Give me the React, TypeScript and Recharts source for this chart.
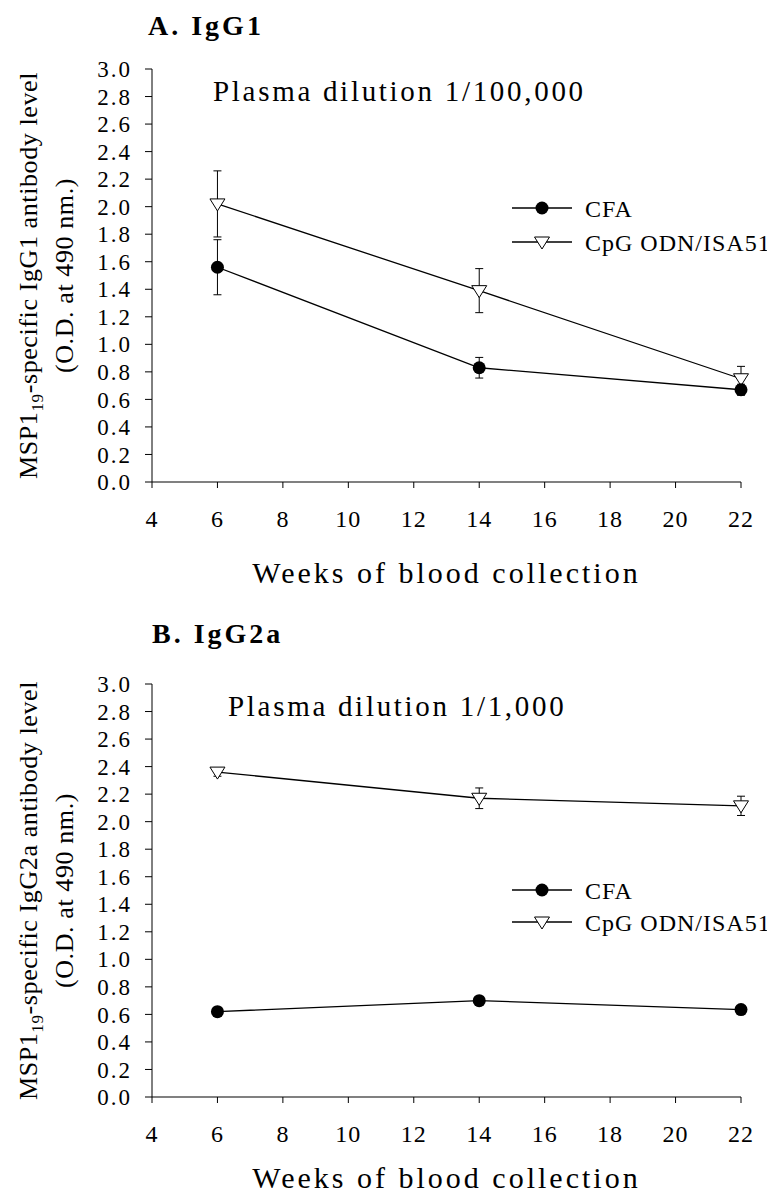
import React from 'react';
import { LineChart, Line, XAxis, YAxis, ErrorBar } from 'recharts';

const weeks = [6, 14, 22];
const weekTicks = [4, 6, 8, 10, 12, 14, 16, 18, 20, 22];
const odTicks = [0, 0.2, 0.4, 0.6, 0.8, 1.0, 1.2, 1.4, 1.6, 1.8, 2.0, 2.2, 2.4, 2.6, 2.8, 3.0];

// IgG1, plasma dilution 1/100,000
const cfaIgG1 = [1.56, 0.83, 0.67];
const cfaIgG1Err = [0.2, 0.075, 0.04];
const cpgIgG1 = [2.02, 1.39, 0.75];
const cpgIgG1Err = [0.24, 0.16, 0.09];

// IgG2a, plasma dilution 1/1,000
const cfaIgG2a = [0.62, 0.7, 0.635];
const cfaIgG2aErr = [0.02, 0.02, 0.02];
const cpgIgG2a = [2.36, 2.17, 2.115];
const cpgIgG2aErr = [0.03, 0.075, 0.07];

const SERIF = '"Liberation Serif", "Times New Roman", serif';
const W = 775;
const PLOT_LEFT = 152;
const PLOT_RIGHT = 741;
const PLOT_TOP = 69;
const PLOT_BOTTOM = 482;
const X_AXIS_H = 30;
const Y_AXIS_W = 60;

const buildRows = (cfa: number[], cfaErr: number[], cpg: number[], cpgErr: number[]) =>
  weeks.map((week, i) => ({ week, cfa: cfa[i], cfaErr: cfaErr[i], cpg: cpg[i], cpgErr: cpgErr[i] }));

const Triangle = ({ cx, cy }: { cx: number; cy: number }) => (
  <path
    d={`M${cx - 7.5},${cy - 5} L${cx + 7.5},${cy - 5} L${cx},${cy + 7} Z`}
    fill="#fff"
    stroke="#000"
    strokeWidth={1}
  />
);

const Disc = ({ cx, cy }: { cx: number; cy: number }) => <circle cx={cx} cy={cy} r={6.5} fill="#000" />;

interface PanelProps {
  top: number;
  height: number;
  title: string;
  titleX: number;
  titleY: number;
  dilution: string;
  dilutionX: number;
  isotype: string;
  legendRows: [number, number];
  xLabelY: number;
  rows: ReturnType<typeof buildRows>;
}

const Panel: React.FC<PanelProps> = ({
  top, height, title, titleX, titleY, dilution, dilutionX, isotype, legendRows, xLabelY, rows,
}) => {
  const yMid = (PLOT_TOP + PLOT_BOTTOM) / 2;
  return (
    <div style={{ position: 'absolute', left: 0, top, width: W, height }}>
      <LineChart
        width={W}
        height={height}
        data={rows}
        margin={{ top: PLOT_TOP, right: W - PLOT_RIGHT, bottom: height - PLOT_BOTTOM - X_AXIS_H, left: PLOT_LEFT - Y_AXIS_W }}
      >
        <XAxis
          type="number"
          dataKey="week"
          domain={[4, 22]}
          ticks={weekTicks}
          interval={0}
          height={X_AXIS_H}
          axisLine={{ stroke: '#808080', strokeWidth: 2 }}
          tickLine={{ stroke: '#000', strokeWidth: 1 }}
          tickSize={6}
          tickMargin={22}
          tick={{ fill: '#000', fontSize: 24, fontFamily: SERIF, letterSpacing: 1 }}
        />
        <YAxis
          type="number"
          domain={[0, 3]}
          ticks={odTicks}
          interval={0}
          width={Y_AXIS_W}
          axisLine={{ stroke: '#000', strokeWidth: 1 }}
          tickLine={{ stroke: '#000', strokeWidth: 1 }}
          tickSize={7}
          tickMargin={13}
          tickFormatter={(v: number) => v.toFixed(1)}
          tick={{ fill: '#000', fontSize: 23, fontFamily: SERIF, letterSpacing: 2 }}
        />
        <Line
          dataKey="cpg"
          stroke="#000"
          strokeWidth={1.3}
          isAnimationActive={false}
          activeDot={false}
          dot={(p: any) => <Triangle key={`t${p.index}`} cx={p.cx} cy={p.cy} />}
        >
          <ErrorBar dataKey="cpgErr" direction="y" width={4} stroke="#000" strokeWidth={1} isAnimationActive={false} />
        </Line>
        <Line
          dataKey="cfa"
          stroke="#000"
          strokeWidth={1.3}
          isAnimationActive={false}
          activeDot={false}
          dot={(p: any) => <Disc key={`c${p.index}`} cx={p.cx} cy={p.cy} />}
        >
          <ErrorBar dataKey="cfaErr" direction="y" width={4} stroke="#000" strokeWidth={1} isAnimationActive={false} />
        </Line>
      </LineChart>
      <svg
        width={W}
        height={height}
        style={{ position: 'absolute', left: 0, top: 0, pointerEvents: 'none' }}
        fontFamily={SERIF}
        fill="#000"
      >
        <text x={titleX} y={titleY} fontSize={28} fontWeight="bold" letterSpacing={3}>{title}</text>
        <text x={dilutionX} y={101} fontSize={29} letterSpacing={2.7}>{dilution}</text>
        <text transform={`translate(37,${yMid}) rotate(-90)`} textAnchor="middle" fontSize={26} letterSpacing={0.6}>
          MSP1<tspan fontSize={17} dy={6}>19</tspan>
          <tspan dy={-6}>{`-specific ${isotype} antibody level`}</tspan>
        </text>
        <text transform={`translate(73,${yMid}) rotate(-90)`} textAnchor="middle" fontSize={26} letterSpacing={0.6}>
          (O.D. at 490 nm.)
        </text>
        <text x={(PLOT_LEFT + PLOT_RIGHT) / 2} y={xLabelY} textAnchor="middle" fontSize={30} letterSpacing={3}>
          Weeks of blood collection
        </text>
        {/* legend */}
        <line x1={512} x2={572} y1={legendRows[0]} y2={legendRows[0]} stroke="#000" strokeWidth={1.3} />
        <Disc cx={542} cy={legendRows[0]} />
        <text x={585} y={legendRows[0] + 9} fontSize={24} letterSpacing={1}>CFA</text>
        <line x1={512} x2={572} y1={legendRows[1]} y2={legendRows[1]} stroke="#000" strokeWidth={1.3} />
        <Triangle cx={542} cy={legendRows[1]} />
        <text x={585} y={legendRows[1] + 9} fontSize={24} letterSpacing={1}>CpG ODN/ISA51</text>
      </svg>
    </div>
  );
};

export default function App() {
  return (
    <div style={{ position: 'relative', margin: -8, width: W, height: 1203, background: '#fff', overflow: 'hidden' }}>
      <Panel
        top={0}
        height={600}
        title="A. IgG1"
        titleX={148}
        titleY={35}
        dilution="Plasma dilution 1/100,000"
        dilutionX={213}
        isotype="IgG1"
        legendRows={[208, 242]}
        xLabelY={583}
        rows={buildRows(cfaIgG1, cfaIgG1Err, cpgIgG1, cpgIgG1Err)}
      />
      <Panel
        top={615}
        height={588}
        title="B. IgG2a"
        titleX={152}
        titleY={28}
        dilution="Plasma dilution 1/1,000"
        dilutionX={228}
        isotype="IgG2a"
        legendRows={[275, 307]}
        xLabelY={573}
        rows={buildRows(cfaIgG2a, cfaIgG2aErr, cpgIgG2a, cpgIgG2aErr)}
      />
    </div>
  );
}
